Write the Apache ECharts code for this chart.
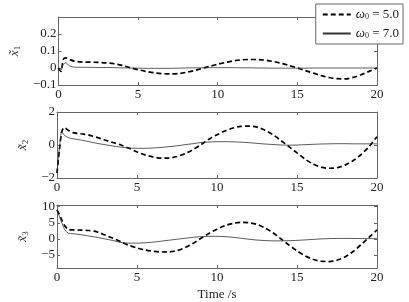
<!DOCTYPE html>
<html>
<head>
<meta charset="utf-8">
<script src="https://cdn.jsdelivr.net/npm/echarts@6/dist/echarts.min.js"></script>
<style>html,body{margin:0;padding:0;background:#fff}#c{width:409px;height:302px}</style>
</head>
<body>
<div id="c"></div>
<script>
var time = [0,0.15,0.3,0.45,0.7,1,1.5,2,2.5,3,3.5,4,4.5,5,5.5,6,6.5,7,7.5,8,8.5,9,9.5,10,10.5,11,11.5,12,12.5,13,13.5,14,14.5,15,15.5,16,16.5,17,17.5,18,18.5,19,19.5,20];
var seriesNames = ['ω0 = 5.0', 'ω0 = 7.0'];
// panel 1 (x~1)
var x1_w5 = [0,-0.02,0.05,0.06,0.05,0.04,0.035,0.034,0.033,0.03,0.025,0.015,0.002,-0.01,-0.02,-0.028,-0.033,-0.035,-0.033,-0.026,-0.016,-0.003,0.01,0.022,0.033,0.042,0.048,0.05,0.05,0.046,0.038,0.027,0.014,0.0,-0.015,-0.03,-0.045,-0.056,-0.063,-0.064,-0.055,-0.04,-0.02,0.0];
var x1_w7 = [0,-0.015,0.02,0.03,0.012,0.005,0.004,0.004,0.003,0.003,0.002,0.001,0,-0.001,-0.002,-0.002,-0.002,-0.002,-0.001,0,0.001,0.001,0.002,0.002,0.002,0.002,0.001,0.001,0,0,-0.001,-0.001,-0.001,-0.001,-0.001,0,0,0,0,0,0,0,0,0];
// panel 2 (x~2)
var x2_w5 = [-1.7,-0.3,0.8,1.05,0.9,0.75,0.68,0.6,0.46,0.3,0.15,0.0,-0.2,-0.42,-0.6,-0.72,-0.8,-0.79,-0.7,-0.52,-0.28,0.02,0.35,0.62,0.85,1.03,1.13,1.15,1.08,0.9,0.62,0.27,-0.1,-0.48,-0.85,-1.15,-1.34,-1.41,-1.38,-1.22,-0.95,-0.58,-0.1,0.5];
var x2_w7 = [-1.7,-0.2,0.8,0.6,0.45,0.38,0.3,0.2,0.1,0.02,-0.06,-0.13,-0.18,-0.2,-0.2,-0.18,-0.15,-0.1,-0.05,0.02,0.08,0.15,0.18,0.2,0.2,0.19,0.17,0.14,0.1,0.06,0.03,0.0,-0.01,0.0,0.02,0.04,0.06,0.07,0.08,0.08,0.07,0.07,0.07,0.07];
// panel 3 (x~3)
var x3_w5 = [9,7.5,5.8,4.3,3.0,2.8,2.75,2.6,2.2,1.2,0.2,-0.9,-2.0,-2.8,-3.4,-3.8,-4.05,-4.0,-3.6,-2.7,-1.4,0.2,1.7,3.0,4.1,4.8,5.1,5.0,4.5,3.4,1.9,0.0,-1.9,-3.7,-5.2,-6.3,-6.9,-7.0,-6.6,-5.6,-3.9,-1.8,0.5,2.8];
var x3_w7 = [9,7,5,3.2,1.8,1.6,1.3,0.9,0.5,0.0,-0.5,-1.1,-1.3,-1.3,-1.2,-1.0,-0.7,-0.4,-0.1,0.2,0.5,0.7,0.8,0.8,0.7,0.5,0.2,-0.1,-0.35,-0.5,-0.6,-0.6,-0.55,-0.45,-0.3,-0.15,0.0,0.1,0.15,0.15,0.15,0.12,0.1,0.1];
var xTicks = [0,5,10,15,20];
var yTicks1 = [-0.1,0,0.1,0.2];
var yTicks2 = [-2,0,2];
var yTicks3 = [-5,0,5,10];
var yLabels = ['1','2','3'];

var FONT = 'Liberation Serif';
var AX = '#666';
function pairs(v){ return time.map(function(t,i){ return [t, v[i]]; }); }
function fmt(v){ var s = String(Math.round(v*1000)/1000); return v < 0 ? '\u2212' + s.slice(1) : s; }

var grids = [
  {left:57, right:32, top:17, height:68},
  {left:57, right:32, top:112, height:66},
  {left:57, right:32, top:205, height:66}
];
var yRanges = [[-0.1,0.3],[-2,2],[-9,10.5]];
var yTickSets = [yTicks1, yTicks2, yTicks3];

var xAxes = [], yAxes = [], series = [];
grids.forEach(function(g, i){
  xAxes.push({
    gridIndex:i, type:'value', min:0, max:20, interval:5, position:'bottom',
    axisLine:{show:true, onZero:false, lineStyle:{color:AX, width:1}},
    axisTick:{show:true, inside:true, length:3, lineStyle:{color:AX}},
    axisLabel:{show:true, color:'#222', fontFamily:FONT, fontSize:13, margin:3,
      customValues: xTicks},
    splitLine:{show:false},
    name: i === 2 ? 'Time /s' : '', nameLocation:'middle', nameGap:20,
    nameTextStyle:{color:'#222', fontFamily:FONT, fontSize:13}
  });
  xAxes.push({
    gridIndex:i, type:'value', min:0, max:20, interval:5, position:'top',
    axisLine:{show:true, onZero:false, lineStyle:{color:AX, width:1}},
    axisTick:{show:true, inside:true, length:3, lineStyle:{color:AX}},
    axisLabel:{show:false}, splitLine:{show:false}
  });
  yAxes.push({
    gridIndex:i, type:'value', min:yRanges[i][0], max:yRanges[i][1], position:'left',
    axisLine:{show:true, onZero:false, lineStyle:{color:AX, width:1}},
    axisTick:{show:true, inside:true, length:3, lineStyle:{color:AX}, customValues: yTickSets[i]},
    axisLabel:{show:true, color:'#222', fontFamily:FONT, fontSize:13, margin:2,
      customValues: yTickSets[i], formatter: fmt},
    splitLine:{show:false},
    name: '{x|x\u0303}{s|' + yLabels[i] + '}', nameLocation:'middle', nameRotate:90, nameGap:26,
    nameTextStyle:{rich:{
      x:{fontFamily:FONT, fontStyle:'italic', fontSize:13, color:'#333'},
      s:{fontFamily:FONT, fontSize:9, color:'#333', verticalAlign:'bottom', padding:[6,0,0,0]}
    }}
  });
  yAxes.push({
    gridIndex:i, type:'value', min:yRanges[i][0], max:yRanges[i][1], position:'right',
    axisLine:{show:true, onZero:false, lineStyle:{color:AX, width:1}},
    axisTick:{show:true, inside:true, length:3, lineStyle:{color:AX}, customValues: yTickSets[i]},
    axisLabel:{show:false}, splitLine:{show:false}
  });
});

var data = [[x1_w5, x1_w7],[x2_w5, x2_w7],[x3_w5, x3_w7]];
data.forEach(function(d, i){
  series.push({
    name: seriesNames[0], type:'line', xAxisIndex:2*i, yAxisIndex:2*i,
    data: pairs(d[0]), symbol:'none', smooth:0.3, animation:false,
    itemStyle:{color:'#000'},
    lineStyle:{color:'#000', width:1.7, type:[5,3]}
  });
  series.push({
    name: seriesNames[1], type:'line', xAxisIndex:2*i, yAxisIndex:2*i,
    data: pairs(d[1]), symbol:'none', smooth:0.3, animation:false,
    itemStyle:{color:'#333'},
    lineStyle:{color:'#333', width:0.8, type:'solid'}
  });
});

var chart = echarts.init(document.getElementById('c'), null, {renderer:'canvas'});
chart.setOption({
  backgroundColor:'#fff',
  animation:false,
  grid: grids,
  xAxis: xAxes,
  yAxis: yAxes,
  legend: {
    data: seriesNames, orient:'vertical', right:6, top:4,
    backgroundColor:'#fff', borderColor:AX, borderWidth:1,
    padding:[4,4,4,6], itemWidth:28, itemHeight:10, itemGap:6,
    itemStyle:{opacity:0},
    formatter: function(n){ var p = n.split(' = '); return '{w|ω}{s|0}{t| = ' + p[1] + '}'; },
    textStyle:{ rich:{
      w:{fontFamily:FONT, fontStyle:'italic', fontSize:13, color:'#222'},
      s:{fontFamily:FONT, fontSize:8, color:'#222', verticalAlign:'bottom', padding:[5,0,0,0]},
      t:{fontFamily:FONT, fontSize:13, color:'#222'}
    }}
  },
  series: series
});
</script>
</body>
</html>
